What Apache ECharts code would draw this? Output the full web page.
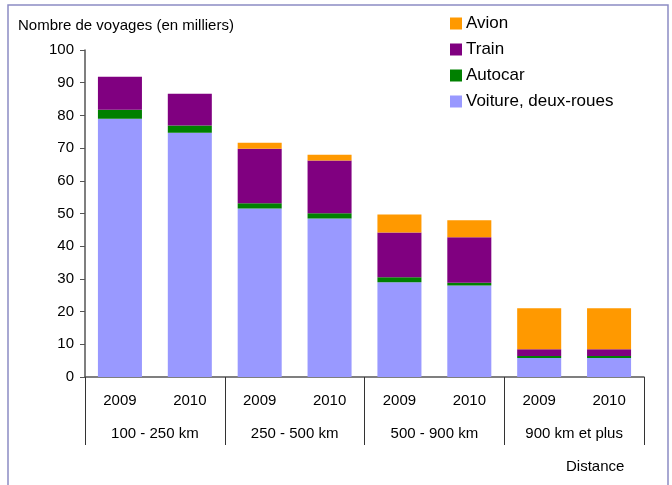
<!DOCTYPE html>
<html>
<head>
<meta charset="utf-8">
<script src="https://cdn.jsdelivr.net/npm/echarts@6/dist/echarts.min.js"></script>
<style>
html, body { margin: 0; padding: 0; background: #fff; }
#chart { width: 672px; height: 485px; }
</style>
</head>
<body>
<div id="chart"></div>
<script>
var years = ['2009', '2010', '2009', '2010', '2009', '2010', '2009', '2010']
var groups = ['100 - 250 km', '250 - 500 km', '500 - 900 km', '900 km et plus']
var voiture = [79, 74.7, 51.5, 48.5, 29, 28, 5.8, 5.8]
var autocar = [2.7, 2.2, 1.6, 1.6, 1.5, 0.8, 0.6, 0.6]
var train = [10.1, 9.7, 16.7, 16.1, 13.7, 13.9, 2.1, 2.1]
var avion = [0, 0, 1.8, 1.8, 5.5, 5.2, 12.5, 12.5]

var font = 'Liberation Sans, Arial, sans-serif'
var chart = echarts.init(document.getElementById('chart'))

function barSeries(name, data, color) {
	return {
		name: name,
		type: 'bar',
		stack: 'total',
		data: data,
		barCategoryGap: '37%',
		itemStyle: { color: color },
		xAxisIndex: 0
	}
}

var option = {
	animation: false,
	title: {
		text: 'Nombre de voyages (en milliers)',
		left: 13,
		top: 13,
		textStyle: { fontFamily: font, fontSize: 15, fontWeight: 'normal', color: '#000' }
	},
	legend: {
		orient: 'vertical',
		left: 445,
		top: 10,
		itemWidth: 12,
		itemHeight: 12,
		itemGap: 9,
		icon: 'rect',
		data: ['Avion', 'Train', 'Autocar', 'Voiture, deux-roues'],
		textStyle: { fontFamily: font, fontSize: 17, color: '#000', padding: [0, 0, 0, -1] }
	},
	grid: { left: 85, right: 28, top: 50, bottom: 108 },
	xAxis: [{
		type: 'category',
		data: years,
		axisLine: { lineStyle: { color: '#555', width: 1.5 } },
		axisTick: { show: false },
		axisLabel: { margin: 16, fontFamily: font, fontSize: 15, color: '#000' }
	}, {
		type: 'category',
		data: groups,
		position: 'bottom',
		axisLine: { show: false },
		axisTick: { show: true, length: 68, lineStyle: { color: '#333' } },
		axisLabel: { margin: 49, fontFamily: font, fontSize: 15, color: '#000' }
	}],
	yAxis: {
		type: 'value',
		min: 0,
		max: 100,
		interval: 10,
		axisLine: { show: true, lineStyle: { color: '#555', width: 1.5 } },
		axisTick: { show: true, length: 5, lineStyle: { color: '#555' } },
		splitLine: { show: false },
		axisLabel: { margin: 11, fontFamily: font, fontSize: 15, color: '#000' }
	},
	graphic: [{
		type: 'rect',
		shape: { x: 8, y: 5, width: 660, height: 484 },
		style: { fill: null, stroke: '#8c8cc4', lineWidth: 1.5 },
		silent: true
	}, {
		type: 'text',
		left: 566,
		top: 459,
		style: { text: 'Distance', font: '15px ' + font, fill: '#000' }
	}],
	series: [
		barSeries('Voiture, deux-roues', voiture, '#9999ff'),
		barSeries('Autocar', autocar, '#008000'),
		barSeries('Train', train, '#800080'),
		barSeries('Avion', avion, '#ff9900')
	]
}
chart.setOption(option)
</script>
</body>
</html>
